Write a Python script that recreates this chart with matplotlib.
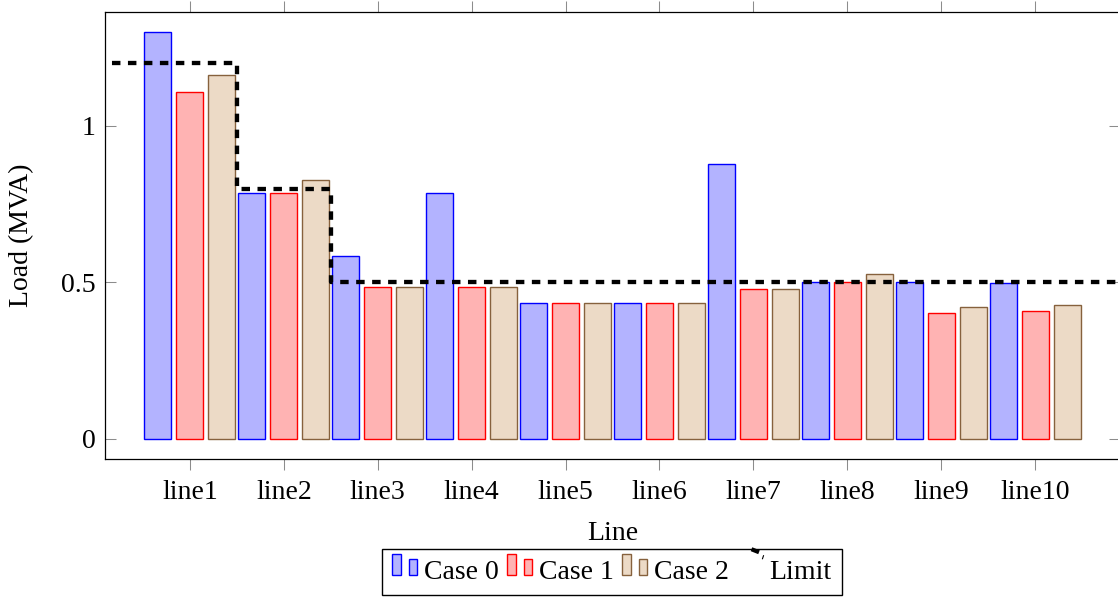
import numpy as np
import matplotlib
matplotlib.use('Agg')
import matplotlib.pyplot as plt
from matplotlib.patches import Rectangle
from matplotlib.lines import Line2D
from matplotlib.container import BarContainer
from matplotlib.legend_handler import HandlerBase

plt.rcParams['font.family'] = ['Liberation Serif', 'DejaVu Serif']
plt.rcParams['lines.scale_dashes'] = False

# ---------------- data ----------------
lines = ['line1', 'line2', 'line3', 'line4', 'line5',
         'line6', 'line7', 'line8', 'line9', 'line10']
case0 = [1.300, 0.787, 0.584, 0.786, 0.433, 0.433, 0.878, 0.500, 0.500, 0.497]
case1 = [1.108, 0.787, 0.484, 0.486, 0.433, 0.433, 0.478, 0.500, 0.403, 0.407]
case2 = [1.163, 0.827, 0.484, 0.486, 0.433, 0.433, 0.478, 0.527, 0.422, 0.427]
limit = [1.2, 0.8, 0.5, 0.5, 0.5, 0.5, 0.5, 0.5, 0.5, 0.5]
series_names = ['Case 0', 'Case 1', 'Case 2']
limit_name = 'Limit'
yticks = [0, 0.5, 1]
ytick_labels = ['0', '0.5', '1']

fills = ['#b3b3ff', '#ffb3b3', '#ecdac6']
edges = ['#0000ff', '#ff0000', '#86613d']

W, H = 1118, 597
fig = plt.figure(figsize=(W / 100, H / 100), dpi=100)
ax = fig.add_axes([105 / W, 1 - 458.7 / H, (1120 - 105) / W, (458.7 - 11.7) / H])

x = np.arange(1, len(lines) + 1)
off = 0.341
bw = 0.2875
bar_handles = []
for i, vals in enumerate([case0, case1, case2]):
    bc = ax.bar(x + (i - 1) * off, vals, width=bw, color=fills[i],
                edgecolor=edges[i], linewidth=1.0, label=series_names[i], zorder=2)
    bar_handles.append(bc)

xl = np.arange(0, len(lines) + 2)
yl = np.concatenate([[limit[0]], limit, [limit[-1]]])
lim_line, = ax.step(xl, yl, where='mid', color='black', lw=3.1,
                    dashes=(6.1, 5.4), label=limit_name, zorder=3)

ax.set_xlim(0.095, 10.905)
ax.set_ylim(-0.064, 1.3655)
ax.set_xticks(x, lines)
ax.set_yticks(yticks, ytick_labels)
ax.tick_params(axis='x', direction='out', top=True, length=7.9, width=0.75,
               color='#8c8c8c', pad=7.4, labelsize=20)
ax.tick_params(axis='y', direction='in', right=True, length=7.9, width=0.75,
               color='#8c8c8c', pad=6.5, labelsize=20)
for s in ax.spines.values():
    s.set_linewidth(0.9)
    s.set_color('black')

ax.set_xlabel('Line', fontsize=20)
ax.xaxis.set_label_coords(0.5, -0.1403)
ax.set_ylabel('Load (MVA)', fontsize=20)
ax.yaxis.set_label_coords(-0.070, 0.5)

K = 0.72  # points per pixel at 100 dpi


class PairBarHandler(HandlerBase):
    def create_artists(self, legend, orig_handle, xdescent, ydescent,
                       width, height, fontsize, trans):
        p = orig_handle.patches[0]
        fc, ec = p.get_facecolor(), p.get_edgecolor()
        xt = -xdescent + width + legend.handletextpad * fontsize
        r1 = Rectangle((xt - 32 * K, 4 * K), 9 * K, 21 * K, facecolor=fc,
                       edgecolor=ec, lw=1.0, transform=trans)
        r2 = Rectangle((xt - 15 * K, 4 * K), 8 * K, 16 * K, facecolor=fc,
                       edgecolor=ec, lw=1.0, transform=trans)
        return [r1, r2]


class LimitHandler(HandlerBase):
    def create_artists(self, legend, orig_handle, xdescent, ydescent,
                       width, height, fontsize, trans):
        xt = -xdescent + width + legend.handletextpad * fontsize
        l1 = Line2D([xt - 18 * K, xt - 10.5 * K], [29.5 * K, 26.5 * K], lw=3.0,
                    color='black', solid_capstyle='butt', transform=trans)
        l2 = Line2D([xt - 6 * K, xt - 7 * K], [23 * K, 20 * K], lw=0.8,
                    color='black', transform=trans)
        return [l1, l2]


handles = bar_handles + [lim_line]
labels = series_names + [limit_name]
leg = fig.legend(handles, labels, loc='upper center',
                 bbox_to_anchor=(612 / W, 1 - 549 / H), ncol=4, frameon=True,
                 fancybox=False, edgecolor='black', framealpha=1,
                 borderpad=0.37, borderaxespad=0, handlelength=0.94,
                 handletextpad=0.216, columnspacing=0.29, fontsize=20,
                 handler_map={BarContainer: PairBarHandler(),
                              Line2D: LimitHandler()})
leg.get_frame().set_linewidth(1.0)

fig.savefig('out.png', dpi=100)
